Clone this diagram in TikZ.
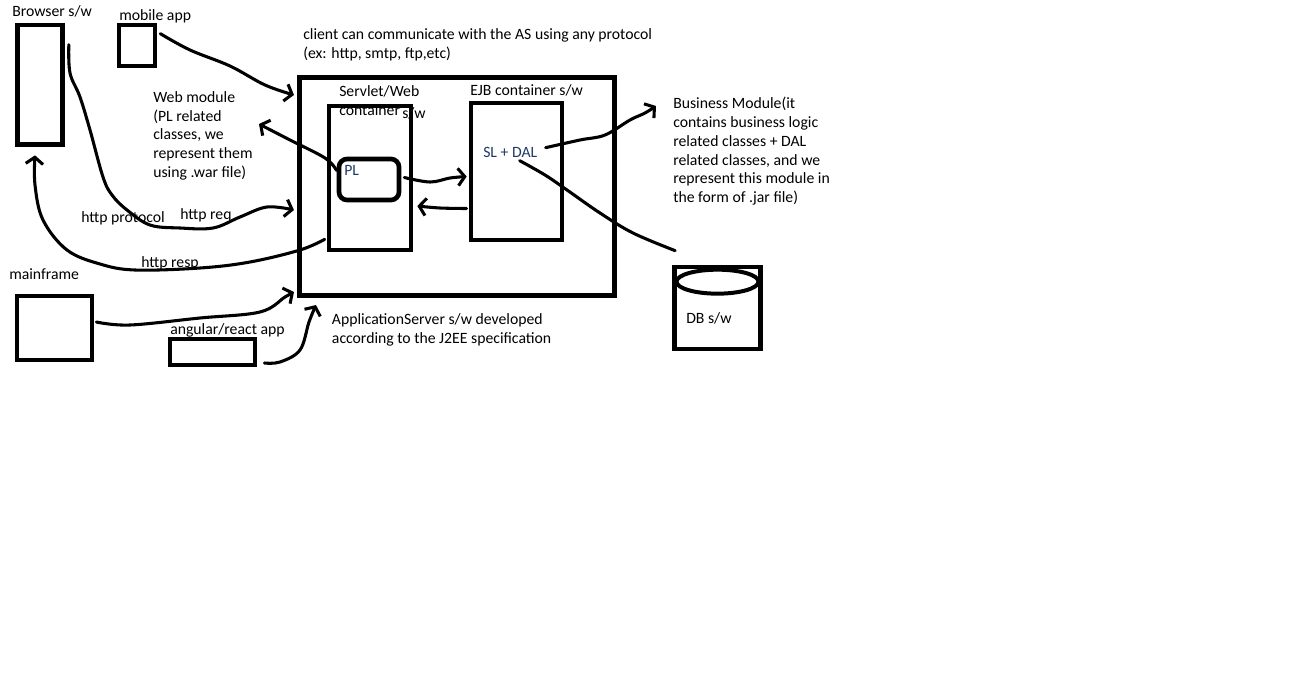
\documentclass[tikz,border=0pt]{standalone}
\usepackage{fontspec}
\setmainfont{Carlito}
\usetikzlibrary{arrows.meta,calc}
\definecolor{navytext}{RGB}{31,56,100}
\begin{document}
\begin{tikzpicture}[x=0.75pt,y=-0.75pt,
  box/.style={draw,line width=3.5pt,rectangle,inner sep=0pt},
  lbl/.style={anchor=base west,inner sep=0pt,font=\fontsize{11.8}{14.1}\selectfont,align=left},
  wire/.style={line width=2.3pt,line cap=round,line join=round},
  arr/.style={wire,-{Straight Barb[length=5pt,width=13pt]}},
  navy/.style={text=navytext}
]
\useasboundingbox (0,0) rectangle (1303,693);

% clients
\node[box,minimum width={45*0.75pt},minimum height={119.5*0.75pt}] (browser) at (40,84.75) {};
\node[box,minimum width={36*0.75pt},minimum height={41*0.75pt}] (mobile) at (137,45.5) {};
\node[box,minimum width={75*0.75pt},minimum height={64*0.75pt}] (mainframe) at (54.5,328) {};
\node[box,minimum width={85*0.75pt},minimum height={26*0.75pt}] (angular) at (212.5,352) {};

% application server and its containers
\node[box,line width=3.8pt,minimum width={315*0.75pt},minimum height={218*0.75pt}] (as) at (457,186.5) {};
\node[box,minimum width={82*0.75pt},minimum height={144*0.75pt}] (web) at (370,178) {};
\node[box,rounded corners=6pt,minimum width={60*0.75pt},minimum height={41*0.75pt}] (pl) at (369,179.5) {};
\node[box,minimum width={91*0.75pt},minimum height={137*0.75pt}] (ejb) at (516.5,171.5) {};

% database
\node[box,minimum width={86*0.75pt},minimum height={82*0.75pt}] (db) at (717.5,308) {};
\draw[line width=3pt] ($(db.north)+(0,17)$) ellipse [x radius=30.75pt, y radius=9pt];

% labels (multi-line labels are placed by the baseline of their last line)
\node[lbl] (lbrowser) at (12,16) {Browser s/w};
\node[lbl] (lmobile) at (119,20) {mobile app};
\node[lbl] (lclient) at (303,58.5) {client can communicate with the AS using any protocol\\(ex: http, smtp, ftp,etc)};
\node[lbl] (lweb) at (153,177.5) {Web module\\(PL related\\classes, we\\represent them\\using .war file)};
\node[lbl] (lservlet) at (339,115) {Servlet/Web\\container};
\node[lbl] (lsw) at (402,118.3) {s/w};
\node[lbl] (lejb) at (470,95) {EJB container s/w};
\node[lbl,navy] (lsl) at (483,157.7) {SL + DAL};
\node[lbl,navy] (lpl) at (344,175.7) {PL};
\node[lbl] (lbiz) at (673,202.7) {Business Module(it\\contains business logic\\related classes + DAL\\related classes, and we\\represent this module in\\the form of .jar file)};
\node[lbl] (ldb) at (686,323.3) {DB s/w};
\node[lbl] (lhttp) at (81,222.3) {http protocol};
\node[lbl] (lreq) at (180,219) {http req};
\node[lbl] (lresp) at (141,267.3) {http resp};
\node[lbl] (lmain) at (9,279.3) {mainframe};
\node[lbl] (lang) at (170,334.3) {angular/react app};
\node[lbl] (las) at (331.7,343.3) {ApplicationServer s/w developed\\according to the J2EE specification};

% free ends of the note arrows
\coordinate (plnote) at ($(lweb.base west)+(106,-53.5)$);
\coordinate (biznote) at ($(lbiz.base west)+(-17,-96.7)$);

% connectors
\draw[arr] plot[smooth,tension=0.6] coordinates {($(mobile.north east)+(3,11)$) (190,50) (230,66) (265,85) ($(as.north west)+(-3,20)$)};
\draw[arr] plot[smooth,tension=0.6] coordinates {($(browser.north east)+(4,22)$) (70,73) (80,97) (90,130) (103,177) (112,195) (127,210) (150,225) (180,228) (213,228) (240,217) (267,207) ($(as.west)+(-3,23.5)$)};
\draw[arr] plot[smooth,tension=0.6] coordinates {($(web.south west)+(-2,-13)$) (300,250) (250,262) (200,268) (135,270) (100,264) (67,250) (43,220) (35,185) ($(browser.south)+(-5,8.5)$)};
\draw[arr] plot[smooth,tension=0.6] coordinates {($(mainframe.east)+(2,-6)$) (130,325) (200,318) (260,312) (285,297) ($(as.south west)+(-3,-6)$)};
\draw[arr] plot[smooth,tension=0.6] coordinates {($(angular.east)+(7,11)$) (280,362) (300,350) (309,322) ($(as.south west)+(19,7)$)};
\draw[arr] plot[smooth,tension=0.6] coordinates {($(pl.west)+(0,-9)$) (325,158) (290,140) (plnote)};
\draw[arr] plot[smooth,tension=0.6] coordinates {($(pl.east)+(3,-2)$) (430,182) (450,178) ($(ejb.west)+(-2,5)$)};
\draw[arr] plot[smooth,tension=0.6] coordinates {($(ejb.west)+(-2,37)$) (440,208) ($(web.east)+(4,28)$)};
\draw[arr] plot[smooth,tension=0.6] coordinates {($(ejb.north west)+(77,47)$) (580,140) (605,135) (630,120) (645,113) (biznote)};
\draw[wire] plot[smooth,tension=0.6] coordinates {($(ejb.north west)+(51,60)$) (545,175) (567,190) (600,213) (633,233) ($(db.north west)+(3,-14)$)};
\end{tikzpicture}
\end{document}
